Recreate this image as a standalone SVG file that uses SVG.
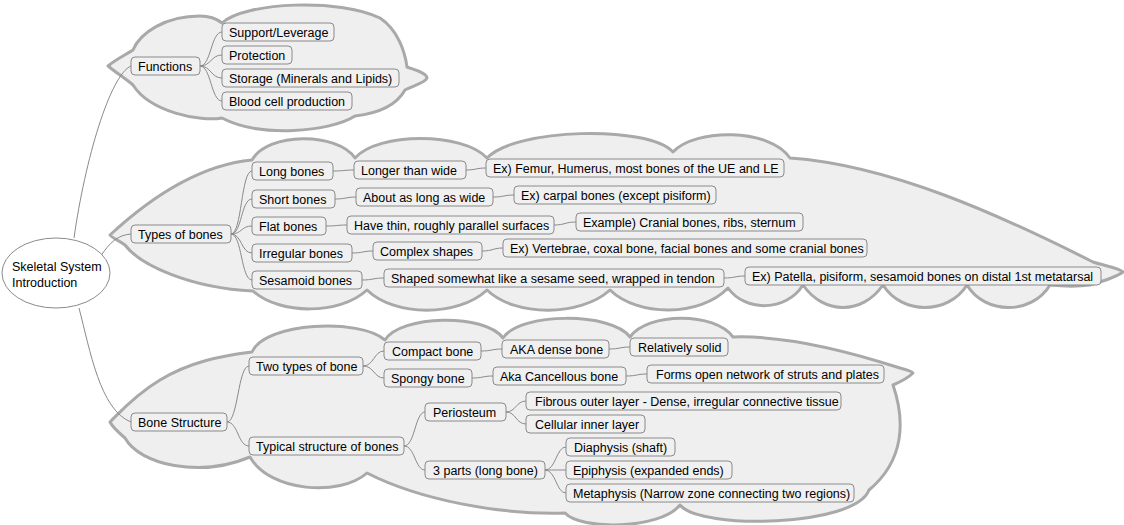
<svg xmlns="http://www.w3.org/2000/svg" width="1124" height="525" viewBox="0 0 1124 525">
<style>
.cloud{fill:#efefef;stroke:#a9a9a9;stroke-width:3;stroke-linejoin:round}
.box{fill:#f0f0f0;stroke:#8a8a8a;stroke-width:1}
.t{font-family:"Liberation Sans",Arial,sans-serif;font-size:12.5px;fill:#000}
.c{fill:none;stroke:#8a8a8a;stroke-width:1}
</style>
<rect width="1124" height="525" fill="#fff"/>
<g id="clouds">
<path class="cloud" d="M108,66 C115,60 125,55 133,50 C140,33 165,16 200,16 C210,16 217,19 222,23 C245,2 340,-2 380,18 C398,30 405,52 407,67 C415,70 427,73 427,78 C425,83 412,86 405,90 C395,108 372,114 355,116 C330,132 260,138 222,118 C200,122 150,112 133,85 C125,78 115,72 108,66 Z"/>
<path class="cloud" d="M110,235 C150,198 200,165 252,160 C268,132 337,132 355,158 C378,132 463,132 487,158 C515,128 648,125 673,152 C695,128 770,128 790,158 C890,165 1000,215 1093,262 C1105,266 1120,268 1123,272 C1115,278 1100,282 1090,285 C1075,287 1060,286 1050,285 C1032,315 985,315 967,285 C948,315 902,315 883,285 C862,315 824,315 803,285 C786,312 745,312 728,288 C700,317 638,317 610,290 C580,317 515,317 487,290 C458,317 395,317 367,290 C340,315 280,315 253,291 C190,288 140,265 125,245 C118,240 112,238 110,235 Z"/>
<path class="cloud" d="M110,422 C120,412 135,395 160,380 C190,362 220,356 252,352 C265,322 360,318 385,340 C400,315 485,313 503,338 C520,312 612,312 630,337 C648,312 715,312 733,337 C790,335 860,355 900,368 C908,370 913,372 913,373 C908,378 900,382 893,385 C905,420 905,460 869,490 C855,527 700,530 680,505 C660,530 580,530 565,513 C500,515 420,500 367,473 C340,497 270,492 250,457 C200,478 140,465 125,438 C118,432 112,426 110,422 Z"/>
</g>
<g id="connectors">
<path class="c" d="M74,238 C85,160 110,75 131,66"/>
<path class="c" d="M100,257 C110,242 118,235 131,234"/>
<path class="c" d="M79,308 C90,350 100,410 131,422"/>
<path class="c" d="M200,66 C211,66 211,32 222,32"/>
<path class="c" d="M200,66 C211,66 211,55 222,55"/>
<path class="c" d="M200,66 C211,66 211,78 222,78"/>
<path class="c" d="M200,66 C211,66 211,101 222,101"/>
<path class="c" d="M231,234 C242,234 241,171 252,171"/>
<path class="c" d="M231,234 C242,234 241,199 252,199"/>
<path class="c" d="M231,234 C242,234 241,226 252,226"/>
<path class="c" d="M231,234 C242,234 241,253 252,253"/>
<path class="c" d="M231,234 C242,234 241,280 252,280"/>
<path class="c" d="M333,171 C344,171 344,170 354,170"/>
<path class="c" d="M466,170 C476,170 476,168 486,168"/>
<path class="c" d="M335,199 C346,199 346,197 356,197"/>
<path class="c" d="M493,197 C504,197 504,195 514,195"/>
<path class="c" d="M326,226 C337,226 337,225 347,225"/>
<path class="c" d="M554,225 C565,225 565,222 576,222"/>
<path class="c" d="M352,253 C363,253 363,251 373,251"/>
<path class="c" d="M482,251 C493,251 493,248 503,248"/>
<path class="c" d="M362,280 C373,280 373,278 384,278"/>
<path class="c" d="M724,278 C735,278 735,276 745,276"/>
<path class="c" d="M227,422 C238,422 238,366 249,366"/>
<path class="c" d="M227,422 C238,422 238,446 249,446"/>
<path class="c" d="M363,366 C374,366 374,351 384,351"/>
<path class="c" d="M363,366 C374,366 374,378 384,378"/>
<path class="c" d="M481,351 C492,351 492,349 502,349"/>
<path class="c" d="M609,349 C620,349 620,347 630,347"/>
<path class="c" d="M472,378 C483,378 483,376 493,376"/>
<path class="c" d="M626,376 C637,376 637,374 647,374"/>
<path class="c" d="M404,446 C415,446 415,412 425,412"/>
<path class="c" d="M404,446 C415,446 415,470 425,470"/>
<path class="c" d="M506,412 C516,412 516,401 526,401"/>
<path class="c" d="M506,412 C516,412 516,424 526,424"/>
<path class="c" d="M545,470 C556,470 556,447 566,447"/>
<path class="c" d="M545,470 C556,470 556,470 566,470"/>
<path class="c" d="M545,470 C556,470 556,493 566,493"/>
</g>
<g id="root"><ellipse cx="56" cy="273" rx="54" ry="35" fill="#fff" stroke="#8a8a8a"/><text class="t" x="12" y="271">Skeletal System</text><text class="t" x="12" y="287">Introduction</text></g>
<g id="n-functions"><rect class="box" x="131" y="57" width="69" height="18" rx="4"/><text class="t" x="138" y="70.5">Functions</text></g>
<g id="n-support"><rect class="box" x="222" y="23" width="112" height="18" rx="4"/><text class="t" x="229" y="36.5">Support/Leverage</text></g>
<g id="n-protection"><rect class="box" x="222" y="46" width="70" height="18" rx="4"/><text class="t" x="229" y="59.5">Protection</text></g>
<g id="n-storage"><rect class="box" x="222" y="69" width="177" height="18" rx="4"/><text class="t" x="229" y="82.5">Storage (Minerals and Lipids)</text></g>
<g id="n-blood"><rect class="box" x="222" y="92" width="130" height="18" rx="4"/><text class="t" x="229" y="105.5">Blood cell production</text></g>
<g id="n-types"><rect class="box" x="131" y="225" width="100" height="18" rx="4"/><text class="t" x="138" y="238.5">Types of bones</text></g>
<g id="n-long"><rect class="box" x="252" y="162" width="81" height="18" rx="4"/><text class="t" x="259" y="175.5">Long bones</text></g>
<g id="n-short"><rect class="box" x="252" y="190" width="83" height="18" rx="4"/><text class="t" x="259" y="203.5">Short bones</text></g>
<g id="n-flat"><rect class="box" x="252" y="217" width="74" height="18" rx="4"/><text class="t" x="259" y="230.5">Flat bones</text></g>
<g id="n-irregular"><rect class="box" x="252" y="244" width="100" height="18" rx="4"/><text class="t" x="259" y="257.5">Irregular bones</text></g>
<g id="n-sesamoid"><rect class="box" x="252" y="271" width="110" height="18" rx="4"/><text class="t" x="259" y="284.5">Sesamoid bones</text></g>
<g id="n-longer"><rect class="box" x="354" y="161" width="112" height="18" rx="4"/><text class="t" x="361" y="174.5">Longer than wide</text></g>
<g id="n-about"><rect class="box" x="356" y="188" width="137" height="18" rx="4"/><text class="t" x="363" y="201.5">About as long as wide</text></g>
<g id="n-thin"><rect class="box" x="347" y="216" width="207" height="18" rx="4"/><text class="t" x="354" y="229.5">Have thin, roughly parallel surfaces</text></g>
<g id="n-complex"><rect class="box" x="373" y="242" width="109" height="18" rx="4"/><text class="t" x="380" y="255.5">Complex shapes</text></g>
<g id="n-shaped"><rect class="box" x="384" y="269" width="340" height="18" rx="4"/><text class="t" x="391" y="282.5">Shaped somewhat like a sesame seed, wrapped in tendon</text></g>
<g id="n-femur"><rect class="box" x="486" y="159" width="298" height="18" rx="4"/><text class="t" x="493" y="172.5">Ex) Femur, Humerus, most bones of the UE and LE</text></g>
<g id="n-carpal"><rect class="box" x="514" y="186" width="202" height="18" rx="4"/><text class="t" x="521" y="199.5">Ex) carpal bones (except pisiform)</text></g>
<g id="n-cranial"><rect class="box" x="576" y="213" width="227" height="18" rx="4"/><text class="t" x="583" y="226.5">Example) Cranial bones, ribs, sternum</text></g>
<g id="n-vertebrae"><rect class="box" x="503" y="239" width="364" height="18" rx="4"/><text class="t" x="510" y="252.5">Ex) Vertebrae, coxal bone, facial bones and some cranial bones</text></g>
<g id="n-patella"><rect class="box" x="745" y="267" width="356" height="18" rx="4"/><text class="t" x="752" y="280.5">Ex) Patella, pisiform, sesamoid bones on distal 1st metatarsal</text></g>
<g id="n-bone"><rect class="box" x="131" y="413" width="96" height="18" rx="4"/><text class="t" x="138" y="426.5">Bone Structure</text></g>
<g id="n-twotypes"><rect class="box" x="249" y="357" width="114" height="18" rx="4"/><text class="t" x="256" y="370.5">Two types of bone</text></g>
<g id="n-typical"><rect class="box" x="249" y="437" width="155" height="18" rx="4"/><text class="t" x="256" y="450.5">Typical structure of bones</text></g>
<g id="n-compact"><rect class="box" x="384" y="342" width="97" height="18" rx="4"/><text class="t" x="392" y="355.5">Compact bone</text></g>
<g id="n-spongy"><rect class="box" x="384" y="369" width="88" height="18" rx="4"/><text class="t" x="391" y="382.5">Spongy bone</text></g>
<g id="n-periosteum"><rect class="box" x="425" y="403" width="81" height="18" rx="4"/><text class="t" x="433" y="416.5">Periosteum</text></g>
<g id="n-3parts"><rect class="box" x="425" y="461" width="120" height="18" rx="4"/><text class="t" x="433" y="474.5">3 parts (long bone)</text></g>
<g id="n-dense"><rect class="box" x="502" y="340" width="107" height="18" rx="4"/><text class="t" x="510" y="353.5">AKA dense bone</text></g>
<g id="n-cancellous"><rect class="box" x="493" y="367" width="133" height="18" rx="4"/><text class="t" x="500" y="380.5">Aka Cancellous bone</text></g>
<g id="n-fibrous"><rect class="box" x="526" y="392" width="315" height="18" rx="4"/><text class="t" x="535" y="405.5">Fibrous outer layer - Dense, irregular connective tissue</text></g>
<g id="n-cellular"><rect class="box" x="526" y="415" width="119" height="18" rx="4"/><text class="t" x="535" y="428.5">Cellular inner layer</text></g>
<g id="n-solid"><rect class="box" x="630" y="338" width="98" height="18" rx="4"/><text class="t" x="638" y="351.5">Relatively solid</text></g>
<g id="n-forms"><rect class="box" x="647" y="365" width="237" height="18" rx="4"/><text class="t" x="656" y="378.5">Forms open network of struts and plates</text></g>
<g id="n-diaphysis"><rect class="box" x="566" y="438" width="109" height="18" rx="4"/><text class="t" x="574" y="451.5">Diaphysis (shaft)</text></g>
<g id="n-epiphysis"><rect class="box" x="566" y="461" width="166" height="18" rx="4"/><text class="t" x="573" y="474.5">Epiphysis (expanded ends)</text></g>
<g id="n-metaphysis"><rect class="box" x="566" y="484" width="288" height="18" rx="4"/><text class="t" x="573" y="497.5">Metaphysis (Narrow zone connecting two regions)</text></g>
</svg>
